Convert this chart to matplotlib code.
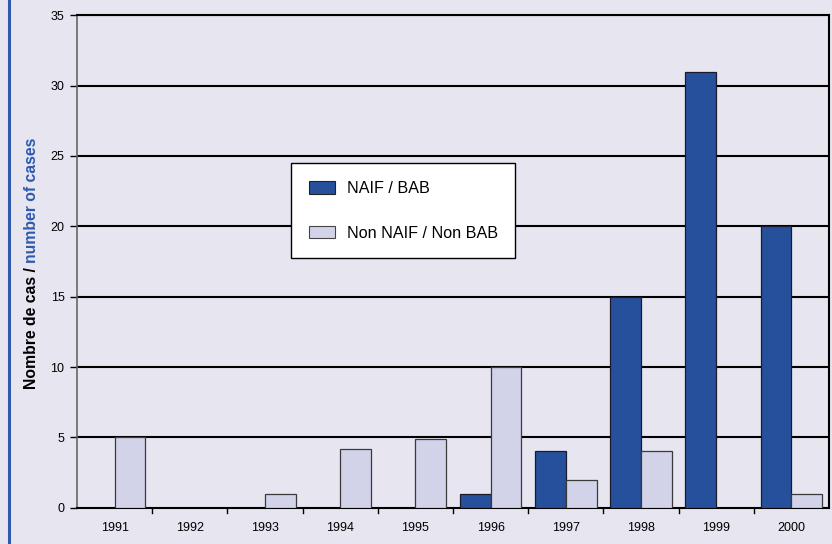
import matplotlib
matplotlib.use("Agg")
import matplotlib.pyplot as plt
from matplotlib.patches import Patch
from matplotlib.lines import Line2D
import numpy as np

years = ["1991", "1992", "1993", "1994", "1995", "1996", "1997", "1998", "1999", "2000"]
naif = [0, 0, 0, 0, 0, 1, 4, 15, 31, 20]
non_naif = [5, 0, 1, 4.2, 4.9, 10, 2, 4, 0, 1]
y_ticks = [0, 5, 10, 15, 20, 25, 30, 35]

bg = "#E6E5F0"
dark = "#26509C"
light = "#D2D3E8"
blue_txt = "#2E5AAC"
font = "Liberation Sans"

fig = plt.figure(figsize=(8.32, 5.44), dpi=100, facecolor=bg)
ax = fig.add_axes([77 / 832, 1 - 507.7 / 544, (829 - 77) / 832, (507.7 - 15.3) / 544])
ax.set_facecolor(bg)

x = np.arange(len(years))
w = 0.41
naif_a = np.array(naif, dtype=float)
non_a = np.array(non_naif, dtype=float)
m1 = naif_a > 0
m2 = non_a > 0
ax.bar(x[m1] - w / 2, naif_a[m1], width=w, color=dark, edgecolor="#1a1a2a",
       linewidth=0.9, zorder=3)
ax.bar(x[m2] + w / 2, non_a[m2], width=w, color=light, edgecolor="#3a3a3a",
       linewidth=0.9, zorder=3)

ax.set_xlim(-0.5, len(years) - 0.5)
ax.set_ylim(0, 35)
ax.set_yticks(y_ticks)
ax.set_yticklabels([str(t) for t in y_ticks], fontsize=9, family=font)
for t in y_ticks[1:]:
    ax.axhline(t, color="black", linewidth=1.5, zorder=2)

ax.set_xticks(x)
ax.set_xticklabels(years, fontsize=9, family=font)
ax.tick_params(axis="x", length=0, pad=10)
ax.tick_params(axis="y", length=5, width=1, direction="out", pad=4)
# category boundary ticks
for b in np.arange(0.5, len(years) - 0.5, 1.0):
    ax.plot([b, b], [0, -0.4], color="black", linewidth=1, clip_on=False, zorder=4)

ax.spines["left"].set_color("#666666")
ax.spines["left"].set_linewidth(1.2)
for s in ("bottom", "right", "top"):
    ax.spines[s].set_color("black")
    ax.spines[s].set_linewidth(1.5)

handles = [Patch(facecolor=dark, edgecolor="#222222", linewidth=0.8, label="NAIF / BAB"),
           Patch(facecolor=light, edgecolor="#444444", linewidth=0.8, label="Non NAIF / Non BAB")]
leg = ax.legend(handles=handles, loc="upper left",
                bbox_to_anchor=((291 - 77) / 752, (507.7 - 163) / 492.4),
                frameon=True, fancybox=False, edgecolor="black", facecolor="white",
                framealpha=1, prop={"family": font, "size": 11.6},
                handlelength=1.6, handleheight=0.85, labelspacing=1.85,
                borderpad=1.1, handletextpad=0.75, borderaxespad=0)
leg.get_frame().set_linewidth(1.0)
leg.set_zorder(5)

# y-axis title in two colours
fig.canvas.draw()
renderer = fig.canvas.get_renderer()
t1 = fig.text(32 / 832, 1 - 389 / 544, "Nombre de cas / ", rotation=90, fontsize=11.3,
              fontweight="bold", family=font, color="black",
              ha="center", va="bottom")
bb = t1.get_window_extent(renderer)
fig.text(32 / 832, bb.y1 / fig.bbox.height, "number of cases", rotation=90, fontsize=11.3,
         fontweight="bold", family=font, color=blue_txt,
         ha="center", va="bottom")

# left border stripe
fig.add_artist(Line2D([8.5 / 832, 8.5 / 832], [0, 1], color=blue_txt, linewidth=2.2,
                      transform=fig.transFigure))

fig.savefig("out.png", dpi=100, facecolor=bg)
